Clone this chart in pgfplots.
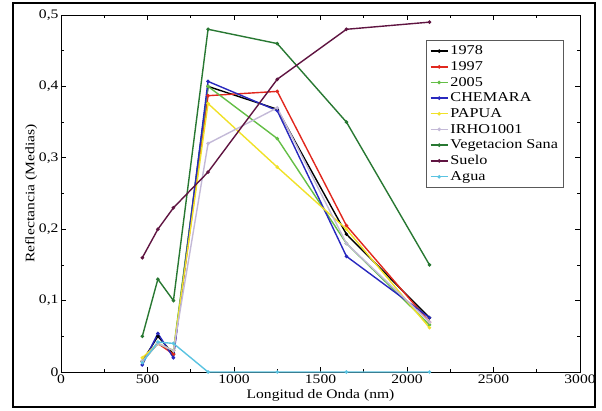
\documentclass[border=0pt]{standalone}
\usepackage{pgfplots}
\pgfplotsset{compat=1.18}
\usepackage{fontspec}
\setmainfont[FakeStretch=1.2]{Liberation Serif}
\definecolor{cA}{RGB}{0,0,0}
\definecolor{cB}{RGB}{225,40,30}
\definecolor{cC}{RGB}{100,190,70}
\definecolor{cD}{RGB}{40,40,190}
\definecolor{cE}{RGB}{240,225,40}
\definecolor{cF}{RGB}{195,185,215}
\definecolor{cG}{RGB}{40,120,50}
\definecolor{cH}{RGB}{95,20,65}
\definecolor{cI}{RGB}{90,195,225}
\begin{document}
\begin{tikzpicture}[x=1pt,y=1pt]
\path[use as bounding box] (-61,-38) rectangle (541,372);
\draw[line width=1.2pt] (-48,-35) rectangle (534,369);
\begin{axis}[
  at={(0,0)}, anchor=south west,
  scale only axis, width=519pt, height=357pt,
  xmin=0, xmax=3000, ymin=0, ymax=0.5,
  xtick={0,500,...,3000}, minor x tick num=1,
  ytick={0,0.1,0.2,0.3,0.4,0.5}, minor y tick num=1,
  tick align=inside,
  major tick length=5pt, minor tick length=3pt,
  every tick/.style={black, line width=0.7pt},
  axis line style={line width=0.9pt},
  /pgf/number format/assume math mode=true,
  /pgf/number format/use comma,
  /pgf/number format/1000 sep={},
  yticklabel style={/pgf/number format/fixed, /pgf/number format/precision=1, xshift=1pt},
  xticklabel style={yshift=1pt},
  tick label style={font=\fontsize{13}{15}\selectfont},
  xlabel={Longitud de Onda (nm)},
  ylabel={Reflectancia (Medias)},
  label style={font=\fontsize{13}{15}\selectfont},
  xlabel style={yshift=1pt},
  ylabel style={yshift=-5pt},
  legend cell align=left,
  legend style={at={(rel axis cs:0.969,0.93)}, anchor=north east,
    draw=gray!70!black, line width=0.9pt,
    font=\fontsize{13.5}{15}\selectfont, row sep=1.2pt, inner sep=3.5pt},
  every axis plot/.append style={line width=1.4pt, mark=*, mark size=1pt},
]
\addplot[color=cA] coordinates {(470,0.015)(560,0.05)(650,0.025)(850,0.40)(1250,0.368)(1650,0.193)(2130,0.076)};
\addplot[color=cB] coordinates {(470,0.015)(560,0.04)(650,0.025)(850,0.387)(1250,0.393)(1650,0.205)(2130,0.070)};
\addplot[color=cC] coordinates {(470,0.015)(560,0.04)(650,0.03)(850,0.40)(1250,0.327)(1650,0.18)(2130,0.066)};
\addplot[color=cD] coordinates {(470,0.01)(560,0.054)(650,0.02)(850,0.407)(1250,0.366)(1650,0.162)(2130,0.076)};
\addplot[color=cE] coordinates {(470,0.02)(560,0.04)(650,0.03)(850,0.376)(1250,0.287)(1650,0.20)(2130,0.062)};
\addplot[color=cF] coordinates {(470,0.015)(560,0.04)(650,0.03)(850,0.32)(1250,0.37)(1650,0.18)(2130,0.07)};
\addplot[color=cG] coordinates {(470,0.05)(560,0.13)(650,0.10)(850,0.48)(1250,0.46)(1650,0.35)(2130,0.15)};
\addplot[color=cH] coordinates {(470,0.16)(560,0.20)(650,0.23)(850,0.28)(1250,0.41)(1650,0.48)(2130,0.49)};
\addplot[color=cI] coordinates {(470,0.013)(560,0.042)(650,0.04)(850,0.0)(1250,0.0)(1650,0.0)(2130,0.0)};
\legend{1978,1997,2005,CHEMARA,PAPUA,IRHO1001,Vegetacion Sana,Suelo,Agua}
\end{axis}
\end{tikzpicture}
\end{document}
